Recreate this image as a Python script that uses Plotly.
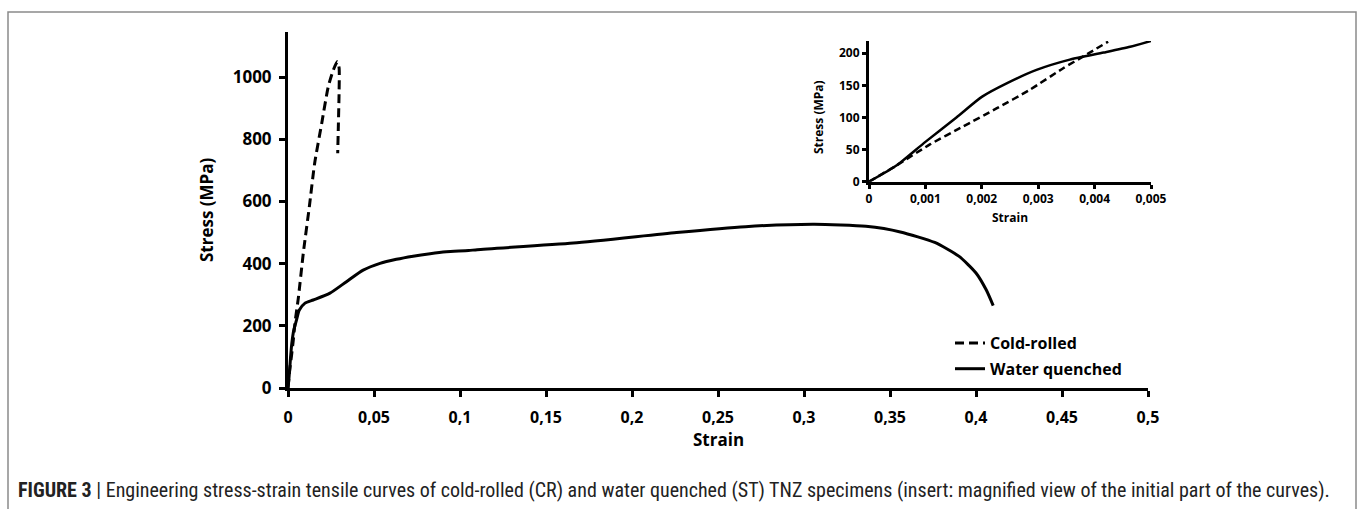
import plotly.graph_objects as go

# ---------------- data ----------------
wq_strain = [0, 0.0005, 0.001, 0.0015, 0.002, 0.0025, 0.003, 0.0035, 0.004, 0.005,
             0.0065, 0.0099, 0.0147, 0.0244, 0.034, 0.0437, 0.0535, 0.063, 0.0727,
             0.0826, 0.092, 0.105, 0.11, 0.1659, 0.2259, 0.266, 0.306, 0.336, 0.356,
             0.376, 0.390, 0.400, 0.406, 0.410]
wq_stress = [0, 28, 62, 100, 132, 156, 175, 190, 199, 220,
             250, 273, 283, 305, 342, 379, 401, 414, 424,
             432, 438, 442, 445, 466, 500, 519, 527, 520, 502,
             468, 424, 370, 315, 265]

cr_strain = [0, 0.001, 0.002, 0.003, 0.0038, 0.00424, 0.006, 0.0089, 0.0124, 0.0155,
             0.0196, 0.0234, 0.0263, 0.0287, 0.0297, 0.0297, 0.0293, 0.0289]
cr_stress = [0, 58, 102, 150, 195, 218, 289, 434, 583, 723,
             851, 969, 1022, 1050, 1030, 950, 850, 755]

ins_wq_strain = [0, 0.0005, 0.001, 0.00155, 0.002, 0.00244, 0.00297, 0.00356, 0.00416, 0.00463, 0.005]
ins_wq_stress = [0, 26, 62, 100, 132, 153, 174, 190, 201, 210, 219]

ins_cr_strain = [0, 0.0005, 0.00108, 0.00167, 0.00226, 0.00285, 0.00345, 0.0038, 0.00424]
ins_cr_stress = [0, 26, 58, 86, 114, 143, 177, 195, 218]

x_tickvals = [0, 0.05, 0.1, 0.15, 0.2, 0.25, 0.3, 0.35, 0.4, 0.45, 0.5]
x_ticktext = ["0", "0,05", "0,1", "0,15", "0,2", "0,25", "0,3", "0,35", "0,4", "0,45", "0,5"]
y_tickvals = [0, 200, 400, 600, 800, 1000]
y_ticktext = ["0", "200", "400", "600", "800", "1000"]

ix_tickvals = [0, 0.001, 0.002, 0.003, 0.004, 0.005]
ix_ticktext = ["0", "0,001", "0,002", "0,003", "0,004", "0,005"]
iy_tickvals = [0, 50, 100, 150, 200]
iy_ticktext = ["0", "50", "100", "150", "200"]

caption = ("<b>FIGURE 3</b> | Engineering stress-strain tensile curves of cold-rolled (CR) and water "
           "quenched (ST) TNZ specimens (insert: magnified view of the initial part of the curves).")

# ---------------- layout helpers ----------------
W, H = 1358, 509
def px(x):
    return x / W
def py(y):
    return (H - y) / H

FONT = "Open Sans, Lato, sans-serif"
DASH = "9px,5px"

fig = go.Figure()

fig.add_trace(go.Scatter(x=cr_strain, y=cr_stress, mode="lines", name="Cold-rolled",
                         line=dict(color="black", width=3, dash=DASH, shape="spline", smoothing=0.6),
                         xaxis="x", yaxis="y", legendgroup="a"))
fig.add_trace(go.Scatter(x=wq_strain, y=wq_stress, mode="lines", name="Water quenched",
                         line=dict(color="black", width=3, shape="spline", smoothing=0.6),
                         xaxis="x", yaxis="y", legendgroup="b"))
fig.add_trace(go.Scatter(x=ins_cr_strain, y=ins_cr_stress, mode="lines", showlegend=False,
                         line=dict(color="black", width=2.5, dash="7px,4px", shape="spline", smoothing=0.6),
                         xaxis="x2", yaxis="y2"))
fig.add_trace(go.Scatter(x=ins_wq_strain, y=ins_wq_stress, mode="lines", showlegend=False,
                         line=dict(color="black", width=2.5, shape="spline", smoothing=0.6),
                         xaxis="x2", yaxis="y2"))

axis_common = dict(showline=True, linecolor="black", linewidth=3, ticks="outside",
                   tickcolor="black", tickwidth=3, showgrid=False, zeroline=False,
                   fixedrange=True, automargin=False)

fig.update_layout(
    template="none",
    width=W, height=H,
    margin=dict(l=0, r=0, t=0, b=0, autoexpand=False),
    paper_bgcolor="white", plot_bgcolor="white",
    font=dict(family=FONT, color="black"),
    xaxis=dict(domain=[px(288), px(1148)], range=[0, 0.5], anchor="y",
               tickvals=x_tickvals, ticktext=x_ticktext, ticklen=6,
               ticklabelstandoff=7,
               tickfont=dict(family=FONT, size=16, weight="bold"), **axis_common),
    yaxis=dict(domain=[py(388), py(32)], range=[0, 1145], anchor="x",
               tickvals=y_tickvals, ticktext=y_ticktext, ticklen=6,
               ticklabelstandoff=4,
               tickfont=dict(family=FONT, size=17, weight="bold"), **axis_common),
    xaxis2=dict(domain=[px(869), px(1151)], range=[0, 0.005], anchor="y2",
                tickvals=ix_tickvals, ticktext=ix_ticktext, ticklen=4,
                tickfont=dict(family=FONT, size=12, weight="bold"), **axis_common),
    yaxis2=dict(domain=[py(181.7), py(41)], range=[0, 219], anchor="x2",
                tickvals=iy_tickvals, ticktext=iy_ticktext, ticklen=4,
                tickfont=dict(family=FONT, size=12, weight="bold"), **axis_common),
    showlegend=True,
    legend=dict(x=px(950), y=py(326), xanchor="left", yanchor="top",
                bgcolor="rgba(0,0,0,0)", tracegroupgap=2,
                font=dict(family=FONT, size=16, weight="bold", color="black")),
)

# axis titles and caption as text annotations
annos = [
    dict(text="<b>Stress (MPa)</b>", x=px(207), y=py(210), textangle=-90, font=dict(size=17)),
    dict(text="<b>Strain</b>", x=px(718), y=py(439), font=dict(size=17)),
    dict(text="<b>Stress (MPa)</b>", x=px(819), y=py(117), textangle=-90, font=dict(size=12)),
    dict(text="<b>Strain</b>", x=px(1010), y=py(217), font=dict(size=12)),
]
for a in annos:
    fig.add_annotation(xref="paper", yref="paper", showarrow=False,
                       xanchor="center", yanchor="middle",
                       font=dict(family=FONT, color="black", size=a["font"]["size"]),
                       text=a["text"], x=a["x"], y=a["y"], textangle=a.get("textangle", 0))

fig.add_annotation(xref="paper", yref="paper", showarrow=False, xanchor="left", yanchor="middle",
                   x=px(16), y=py(490), text=caption,
                   font=dict(family="Liberation Sans Narrow, Arial Narrow, Roboto Condensed, sans-serif",
                             size=20, color="#222222"))

# outer frame
fig.add_shape(type="rect", xref="paper", yref="paper",
              x0=px(8), x1=px(1356), y0=-0.05, y1=py(12),
              line=dict(color="#8a8a8a", width=1.5), fillcolor="rgba(0,0,0,0)", layer="below")

fig.write_html("out.html", config={"displayModeBar": False},
               post_script="document.body.style.margin='0px';document.body.style.padding='0px';"
                           "document.body.style.overflow='hidden';")
